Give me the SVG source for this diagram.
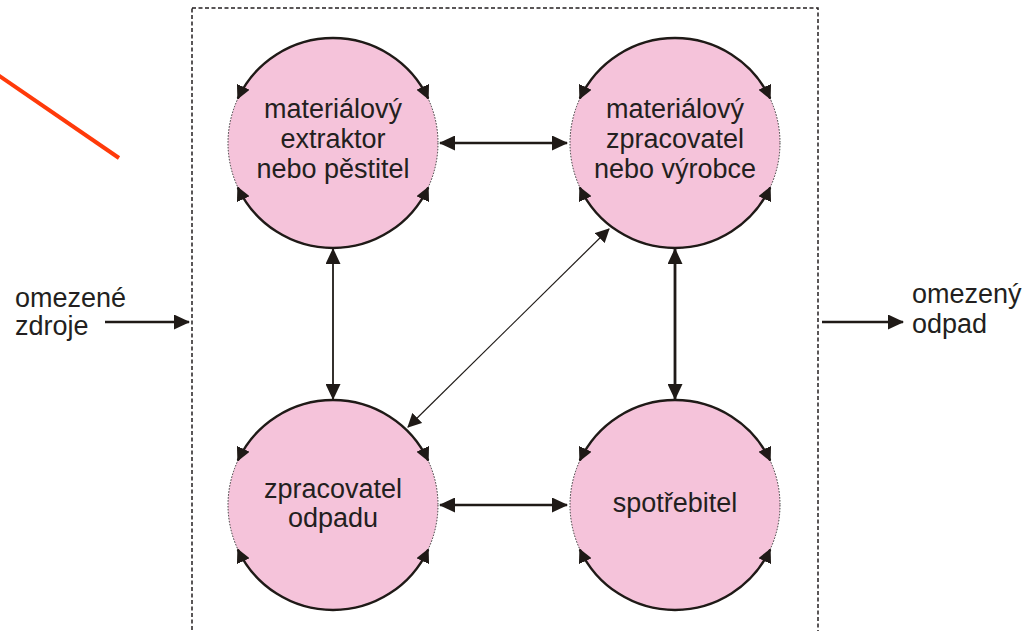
<svg xmlns="http://www.w3.org/2000/svg" xmlns:xlink="http://www.w3.org/1999/xlink" width="1027" height="631" viewBox="0 0 1027 631">
<style>
.lbl{font-family:"Liberation Sans",Arial,sans-serif;font-size:27px;fill:#231f20;text-anchor:middle}
.side{font-family:"Liberation Sans",Arial,sans-serif;font-size:27px;fill:#231f20}
.body{fill:#f5c3da;stroke:#333;stroke-width:1;stroke-dasharray:1.5 1.5}
.arc{fill:none;stroke:#1f1a17;stroke-width:2.4}
.con{stroke:#1f1a17;fill:none}
</style>
<defs>
<marker id="ah" markerUnits="userSpaceOnUse" markerWidth="17" markerHeight="15" refX="15" refY="7.5" orient="auto-start-reverse">
<path d="M0,0 L16,7.5 L0,15 z" fill="#1f1a17"/>
</marker>
<marker id="ahs" markerUnits="userSpaceOnUse" markerWidth="15" markerHeight="14" refX="13" refY="7" orient="auto-start-reverse">
<path d="M0,0 L14,7 L0,14 z" fill="#1f1a17"/>
</marker>
<g id="ring">
<circle class="body" cx="0" cy="0" r="105"/>
<path class="arc" d="M0,-105 A105,105 0 0 0 -95.2,-44.4" marker-end="url(#ahs)"/>
<path class="arc" d="M0,-105 A105,105 0 0 1 95.2,-44.4" marker-end="url(#ahs)"/>
<path class="arc" d="M0,105 A105,105 0 0 1 -95.2,44.4" marker-end="url(#ahs)"/>
<path class="arc" d="M0,105 A105,105 0 0 0 95.2,44.4" marker-end="url(#ahs)"/>
</g>
</defs>
<rect width="1027" height="631" fill="#fff"/>
<line x1="-2" y1="75" x2="119" y2="158" stroke="#ff3a0a" stroke-width="4"/>
<rect id="boundary" x="192" y="8" width="626" height="660" fill="none" stroke="#231f20" stroke-width="1.5" stroke-dasharray="4 2.5"/>
<g id="extractor">
<use xlink:href="#ring" x="333" y="143"/>
<text class="lbl" x="333" y="118">materiálový</text>
<text class="lbl" x="333" y="148">extraktor</text>
<text class="lbl" x="333" y="178">nebo pěstitel</text>
</g>
<g id="processor">
<use xlink:href="#ring" x="675" y="143"/>
<text class="lbl" x="675" y="118">materiálový</text>
<text class="lbl" x="675" y="148">zpracovatel</text>
<text class="lbl" x="675" y="178">nebo výrobce</text>
</g>
<g id="waste">
<use xlink:href="#ring" x="333" y="505"/>
<text class="lbl" x="333" y="498">zpracovatel</text>
<text class="lbl" x="333" y="527">odpadu</text>
</g>
<g id="consumer">
<use xlink:href="#ring" x="675" y="505"/>
<text class="lbl" x="675" y="512">spotřebitel</text>
</g>
<g id="input">
<text class="side" x="15" y="307">omezené</text>
<text class="side" x="15" y="335">zdroje</text>
</g>
<g id="output">
<text class="side" x="912" y="303">omezený</text>
<text class="side" x="912" y="333">odpad</text>
</g>
<g id="connectors">
<line class="con" x1="440" y1="143" x2="567" y2="143" stroke-width="2.6" marker-start="url(#ah)" marker-end="url(#ah)"/>
<line class="con" x1="440" y1="505" x2="567" y2="505" stroke-width="2.6" marker-start="url(#ah)" marker-end="url(#ah)"/>
<line class="con" x1="333" y1="249" x2="333" y2="399" stroke-width="1.8" marker-start="url(#ah)" marker-end="url(#ah)"/>
<line class="con" x1="675" y1="249" x2="675" y2="399" stroke-width="2.8" marker-start="url(#ah)" marker-end="url(#ah)"/>
<line class="con" x1="408" y1="427" x2="609" y2="229" stroke-width="1.2" marker-start="url(#ahs)" marker-end="url(#ahs)"/>
<line class="con" x1="105" y1="322" x2="189" y2="322" stroke-width="2.6" marker-end="url(#ah)"/>
<line class="con" x1="822" y1="322" x2="903" y2="322" stroke-width="2.6" marker-end="url(#ah)"/>
</g>
</svg>
